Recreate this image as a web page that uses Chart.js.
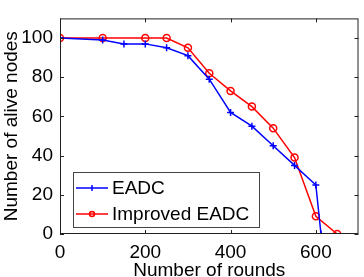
<!DOCTYPE html>
<html>
<head>
<meta charset="utf-8">
<script src="https://cdn.jsdelivr.net/npm/chart.js@4/dist/chart.umd.min.js"></script>
<style>
  html, body { margin: 0; padding: 0; background: #fff; }
  #wrap { width: 364px; height: 277px; }
</style>
</head>
<body>
<div id="wrap"><canvas id="aliveChart" width="364" height="277"></canvas></div>
<script>
const eadcRounds = [0, 100, 150, 200, 250, 300, 350, 400, 450, 500, 550, 600, 612];
const eadcAlive = [100, 99, 97, 97, 95, 91, 79, 62, 55, 45, 35, 25, 0];
const improvedRounds = [0, 100, 200, 250, 300, 350, 400, 450, 500, 550, 600, 650];
const improvedAlive = [100, 100, 100, 100, 95, 82, 73, 65, 54, 39, 9, 0];
const xTicks = [0, 200, 400, 600];
const yTicks = [0, 20, 40, 60, 80, 100];

const FONT = 'Liberation Sans, Arial, sans-serif';

const toPoints = (xs, ys) => xs.map((x, i) => ({ x: x, y: ys[i] }));

// box frame with inward ticks on all four sides, matlab style
const frame = {
    id: 'frame',
    afterDatasetsDraw(chart) {
        const { ctx, chartArea: a, scales } = chart;
        ctx.save();
        ctx.strokeStyle = '#222';
        ctx.lineWidth = 1;
        ctx.strokeRect(a.left + 0.5, a.top + 0.5, a.right - a.left - 1, a.bottom - a.top - 1);
        const len = 4;
        ctx.beginPath();
        xTicks.forEach(v => {
            const px = Math.round(scales.x.getPixelForValue(v)) + 0.5;
            ctx.moveTo(px, a.bottom); ctx.lineTo(px, a.bottom - len);
            ctx.moveTo(px, a.top); ctx.lineTo(px, a.top + len);
        });
        yTicks.forEach(v => {
            const py = Math.round(scales.y.getPixelForValue(v)) + 0.5;
            ctx.moveTo(a.left, py); ctx.lineTo(a.left + len, py);
            ctx.moveTo(a.right, py); ctx.lineTo(a.right - len, py);
        });
        ctx.stroke();
        ctx.restore();
    }
};

// legend box inside the plot, lower left
const boxLegend = {
    id: 'boxLegend',
    afterDraw(chart) {
        const { ctx } = chart;
        const x0 = 73, y0 = 172, w = 186, h = 55;
        ctx.save();
        ctx.fillStyle = '#fff';
        ctx.fillRect(x0, y0, w, h);
        ctx.strokeStyle = '#444';
        ctx.lineWidth = 1;
        ctx.strokeRect(x0 + 0.5, y0 + 0.5, w, h);
        ctx.font = '19px ' + FONT;
        ctx.textBaseline = 'middle';
        chart.data.datasets.forEach((ds, i) => {
            const cy = y0 + 16 + i * 26;
            ctx.strokeStyle = ds.borderColor;
            ctx.lineWidth = 1.5;
            ctx.beginPath();
            ctx.moveTo(76, cy); ctx.lineTo(108, cy);
            ctx.stroke();
            ctx.beginPath();
            if (ds.pointStyle === 'circle') {
                ctx.arc(92, cy, 2.5, 0, Math.PI * 2);
            } else {
                ctx.moveTo(92, cy - 3); ctx.lineTo(92, cy + 3);
            }
            ctx.stroke();
            ctx.fillStyle = '#000';
            ctx.fillText(ds.label, 112, cy + 1);
        });
        ctx.restore();
    }
};

new Chart(document.getElementById('aliveChart'), {
    type: 'scatter',
    data: {
        datasets: [{
            label: 'EADC',
            data: toPoints(eadcRounds, eadcAlive),
            showLine: true,
            borderColor: '#0000ff',
            backgroundColor: '#0000ff',
            borderWidth: 1.5,
            pointStyle: 'cross',
            pointRadius: 3.5,
            pointBorderWidth: 1.5
        }, {
            label: 'Improved EADC',
            data: toPoints(improvedRounds, improvedAlive),
            showLine: true,
            borderColor: '#ff0000',
            backgroundColor: 'rgba(0,0,0,0)',
            borderWidth: 1.5,
            pointStyle: 'circle',
            pointRadius: 3.5,
            pointBorderWidth: 1.5
        }]
    },
    options: {
        responsive: false,
        animation: false,
        layout: { padding: { top: 1, right: 1, left: 0, bottom: 0 } },
        plugins: { legend: { display: false }, tooltip: { enabled: false } },
        scales: {
            x: {
                type: 'linear',
                min: 0, max: 700,
                grid: { display: false, drawTicks: false },
                border: { display: false },
                afterBuildTicks: s => { s.ticks = xTicks.map(v => ({ value: v })); },
                afterFit: s => { s.height = 43; },
                ticks: { color: '#000', padding: 7, maxRotation: 0, font: { family: FONT, size: 19 } },
                title: {
                    display: true, text: 'Number of rounds', color: '#000',
                    padding: 0, font: { family: FONT, size: 19, lineHeight: 0.7 }
                }
            },
            y: {
                min: 0, max: 110,
                grid: { display: false, drawTicks: false },
                border: { display: false },
                afterBuildTicks: s => { s.ticks = yTicks.map(v => ({ value: v })); },
                afterFit: s => { s.width = 60; },
                ticks: { color: '#000', padding: 7, font: { family: FONT, size: 19 } },
                title: {
                    display: true, text: 'Number of alive nodes', color: '#000',
                    padding: 0, font: { family: FONT, size: 19, lineHeight: 1.2 }
                }
            }
        }
    },
    plugins: [frame, boxLegend]
});
</script>
</body>
</html>
